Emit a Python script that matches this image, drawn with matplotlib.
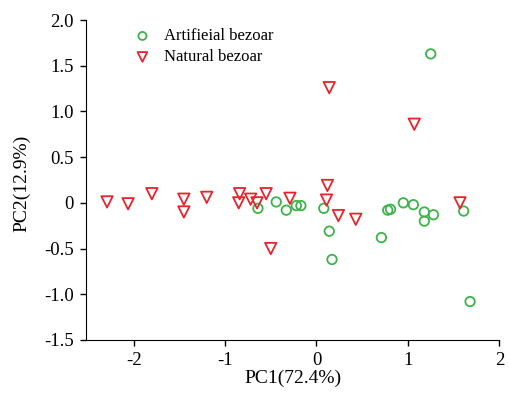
import matplotlib
matplotlib.use('Agg')
import matplotlib.pyplot as plt
from matplotlib.ticker import FixedLocator, FixedFormatter

# Artificial bezoar scores
art_pc1 = [-0.64, -0.44, -0.33, -0.22, -0.17, 0.08, 0.14, 0.17, 0.71, 0.78,
           0.81, 0.95, 1.06, 1.18, 1.18, 1.28, 1.25, 1.61, 1.68]
art_pc2 = [-0.06, 0.01, -0.08, -0.03, -0.03, -0.06, -0.31, -0.62, -0.38, -0.08,
           -0.07, 0.00, -0.02, -0.10, -0.20, -0.13, 1.63, -0.09, -1.08]

# Natural bezoar scores
nat_pc1 = [-2.29, -2.06, -1.80, -1.45, -1.45, -1.20, -0.84, -0.85, -0.72, -0.65,
           -0.55, -0.50, -0.29, 0.12, 0.11, 0.14, 0.24, 0.43, 1.07, 1.57]
nat_pc2 = [0.01, -0.01, 0.10, 0.04, -0.10, 0.06, 0.10, 0.00, 0.04, 0.00,
           0.10, -0.50, 0.05, 0.19, 0.03, 1.26, -0.14, -0.18, 0.86, 0.00]

x_ticks = [-2, -1, 0, 1, 2]
x_labels = ['-2', '-1', '0', '1', '2']
y_ticks = [-1.5, -1.0, -0.5, 0, 0.5, 1.0, 1.5, 2.0]
y_labels = ['-1.5', '-1.0', '-0.5', '0', '0.5', '1.0', '1.5', '2.0']

plt.rcParams['font.family'] = ['Liberation Serif', 'DejaVu Serif']

fig = plt.figure(figsize=(5.09, 3.93), dpi=100)
ax = fig.add_axes([0.169, 0.135, 0.812, 0.814])

ax.scatter(art_pc1, art_pc2, s=6.8**2, marker='o', facecolors='none',
           edgecolors='#3cb44b', linewidths=1.3, label='Artifieial bezoar')
ax.scatter(nat_pc1, nat_pc2, s=8.2**2, marker='v', facecolors='none',
           edgecolors='#e8232b', linewidths=1.3, label='Natural bezoar')

ax.set_xlim(-2.52, 2)
ax.set_ylim(-1.5, 2.0)
ax.xaxis.set_major_locator(FixedLocator(x_ticks))
ax.xaxis.set_major_formatter(FixedFormatter(x_labels))
ax.yaxis.set_major_locator(FixedLocator(y_ticks))
ax.yaxis.set_major_formatter(FixedFormatter(y_labels))

for side in ['top', 'right']:
    ax.spines[side].set_visible(False)
ax.tick_params(direction='out', length=4, width=1, labelsize=13.5, pad=5)

ax.set_xlabel('PC1(72.4%)', fontsize=14, labelpad=0)
ax.set_ylabel('PC2(12.9%)', fontsize=14)
ax.yaxis.set_label_coords(-0.135, 0.49)

ax.legend(loc='upper left', bbox_to_anchor=(0.08, 0.995), frameon=False,
          fontsize=12, handletextpad=0.3, labelspacing=0.3, borderaxespad=0,
          markerscale=0.85)

fig.savefig('out.png', dpi=100)
